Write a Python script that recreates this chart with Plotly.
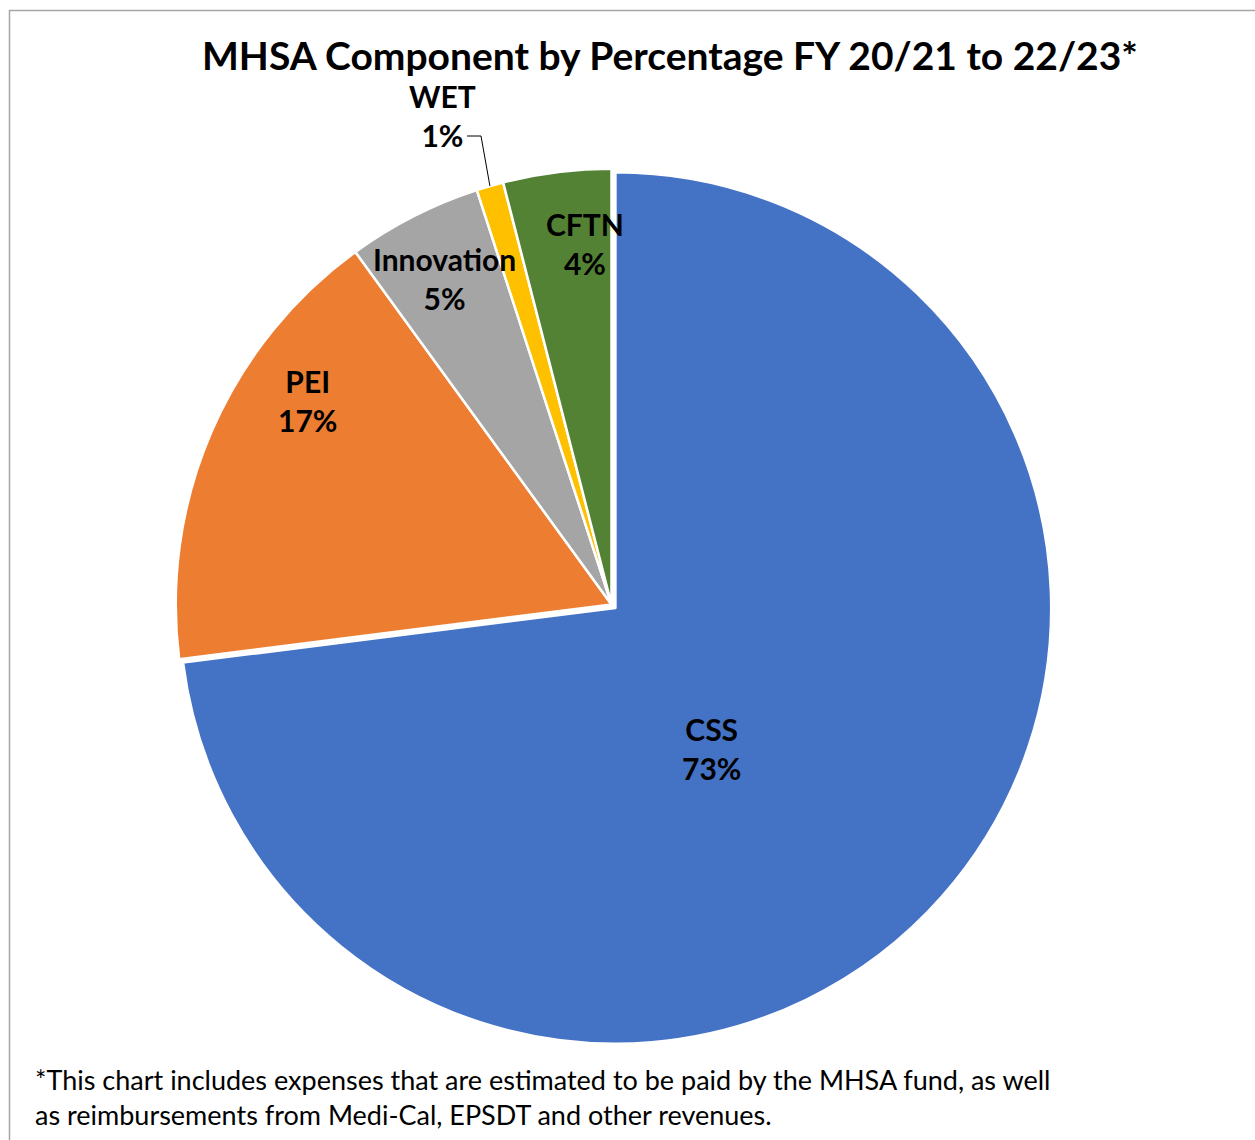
import math
import plotly.graph_objects as go

# MHSA component shares, FY 20/21 to 22/23 (percent)
components = ["CSS", "PEI", "Innovation", "WET", "CFTN"]
shares = [73, 17, 5, 1, 4]
colors = ["#4472C4", "#ED7D31", "#A5A5A5", "#FFC000", "#548235"]
pulls = [0.012, 0, 0, 0, 0]

W, H = 1255, 1140
FONT = "Lato"

# pie geometry (pixels)
cx, cy, half = 611.5, 604.5, 441.0
r_pie = half / (1 + max(pulls))

def px(x):
    return x / W

def py(y):
    return 1 - y / H

fig = go.Figure(go.Pie(
    labels=components,
    values=shares,
    sort=False,
    direction="clockwise",
    rotation=0,
    pull=pulls,
    marker=dict(colors=colors, line=dict(color="white", width=2.5)),
    textinfo="none",
    hoverinfo="label+percent",
    showlegend=False,
    domain=dict(x=[px(cx - half), px(cx + half)], y=[py(cy + half), py(cy - half)]),
))

# data label positions (pixel centres), as laid out on the chart
label_pos = {
    "CSS": (711, 748),
    "PEI": (307, 400),
    "Innovation": (444, 278),
    "WET": (443, 116),
    "CFTN": (585, 243),
}

annotations = []
for name, val in zip(components, shares):
    x, y = label_pos[name]
    annotations.append(dict(
        x=px(x), y=py(y), xref="paper", yref="paper",
        text=f"<b>{name}<br>{val}%</b>", showarrow=False,
        font=dict(family=FONT, size=30, color="black"),
        align="center", xanchor="center", yanchor="middle",
    ))

# title
annotations.append(dict(
    x=px(670), y=py(55), xref="paper", yref="paper",
    text="<b>MHSA Component by Percentage FY 20/21 to 22/23*</b>", showarrow=False,
    font=dict(family=FONT, size=39, color="black"),
    xanchor="center", yanchor="middle",
))

# footnote
annotations.append(dict(
    x=px(33), y=py(1097), xref="paper", yref="paper",
    text="*This chart includes expenses that are estimated to be paid by the MHSA fund, as well<br>"
         "as reimbursements from Medi-Cal, EPSDT and other revenues.",
    showarrow=False, align="left",
    font=dict(family=FONT, size=27, color="black"),
    xanchor="left", yanchor="middle",
))

# leader line for the WET label, ending at the slice's outer edge
cum = sum(shares[:components.index("WET")]) + shares[components.index("WET")] / 2
ang = math.radians(cum / sum(shares) * 360)
ex = cx + r_pie * math.sin(ang)
ey = cy - r_pie * math.cos(ang)
lx0, ly = 467, 136
lx1 = 481
shapes = [
    dict(type="path", xref="paper", yref="paper",
         path=f"M {px(lx0)} {py(ly)} L {px(lx1)} {py(ly)} L {px(ex)} {py(ey)}",
         line=dict(color="black", width=1)),
    # chart-area border
    dict(type="rect", xref="paper", yref="paper",
         x0=px(9.5), x1=1.05, y0=-0.05, y1=py(10.5),
         line=dict(color="#A6A6A6", width=1.5), fillcolor="rgba(0,0,0,0)"),
]

fig.update_layout(
    width=W, height=H,
    margin=dict(l=0, r=0, t=0, b=0),
    paper_bgcolor="white",
    plot_bgcolor="white",
    annotations=annotations,
    shapes=shapes,
)

fig.write_html("out.html")
